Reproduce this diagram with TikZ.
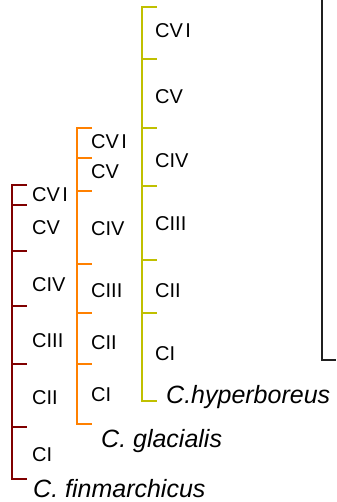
\documentclass[tikz,border=0pt]{standalone}
\usepackage{fontspec}
\setmainfont{Liberation Sans}
\usepackage{xcolor}
\usepackage{tikz}
\definecolor{finmRed}{HTML}{800000}
\definecolor{glacOrange}{HTML}{FF8000}
\definecolor{hyperYellow}{HTML}{C0C000}
\definecolor{frameGray}{HTML}{202020}

\begin{document}
\begin{tikzpicture}[
            x=1bp, y=-1bp,
            stagebar/.style={
                line width=2bp
            },
            stagelabel/.style={
                anchor=west,
                inner sep=0pt,
                font=\fontsize{20bp}{24bp}\selectfont
            },
            specieslabel/.style={
                anchor=base west,
                inner sep=0pt,
                font=\fontsize{25bp}{30bp}\selectfont\itshape
            }
        ]
        \useasboundingbox (0,0) rectangle (336,502);

        % --- Frame edge on the right ---
        \coordinate (frametop) at (322,0);
        \coordinate (framecorner) at (322,360);
        \coordinate (frameright) at (336,360);
        \draw[line width=2bp, draw=frameGray] (frametop) -- (framecorner) -- (frameright);

        % --- C. finmarchicus ---
        \coordinate (ftop) at (12,185);
        \coordinate (fbot) at (12,479);
        \draw[stagebar, draw=finmRed]
            ([xshift=15bp]ftop) -- (ftop) -- (fbot) -- ([xshift=15bp]fbot);
        \foreach \ty in {205,251,306,364,427}
            \draw[stagebar, draw=finmRed] (12,\ty) -- (27,\ty);

        \node[stagelabel] (fCVI) at (32,195) {CV\kern2.5bp I};
        \node[stagelabel] (fCV) at (32,228) {CV};
        \node[stagelabel] (fCIV) at (32,285) {CIV};
        \node[stagelabel] (fCIII) at (32,341) {CIII};
        \node[stagelabel] (fCII) at (32,398) {CII};
        \node[stagelabel] (fCI) at (32,455) {CI};
        \node[specieslabel] (finm) at (33,497) {C. finmarchicus};

        % --- C. glacialis ---
        \coordinate (gtop) at (77,128);
        \coordinate (gbot) at (77,424);
        \draw[stagebar, draw=glacOrange]
            ([xshift=15bp]gtop) -- (gtop) -- (gbot) -- ([xshift=15bp]gbot);
        \foreach \ty in {158,191,264,313,364}
            \draw[stagebar, draw=glacOrange] (77,\ty) -- (92,\ty);

        \node[stagelabel] (gCVI) at (91,142) {CV\kern2.5bp I};
        \node[stagelabel] (gCV) at (91,172) {CV};
        \node[stagelabel] (gCIV) at (91,229) {CIV};
        \node[stagelabel] (gCIII) at (91,291) {CIII};
        \node[stagelabel] (gCII) at (91,343) {CII};
        \node[stagelabel] (gCI) at (91,395) {CI};
        \node[specieslabel] (glac) at (101,447) {C. glacialis};

        % --- C. hyperboreus ---
        \coordinate (htop) at (142,7);
        \coordinate (hbot) at (142,401);
        \draw[stagebar, draw=hyperYellow]
            ([xshift=15bp]htop) -- (htop) -- (hbot) -- ([xshift=15bp]hbot);
        \foreach \ty in {59,128,186,260,313}
            \draw[stagebar, draw=hyperYellow] (142,\ty) -- (157,\ty);

        \node[stagelabel] (hCVI) at (155,31) {CV\kern2.5bp I};
        \node[stagelabel] (hCV) at (155,97) {CV};
        \node[stagelabel] (hCIV) at (155,161) {CIV};
        \node[stagelabel] (hCIII) at (155,224) {CIII};
        \node[stagelabel] (hCII) at (155,291) {CII};
        \node[stagelabel] (hCI) at (155,354) {CI};
        \node[specieslabel] (hyper) at (166,403) {C.hyperboreus};

        \end{tikzpicture}
\end{document}
